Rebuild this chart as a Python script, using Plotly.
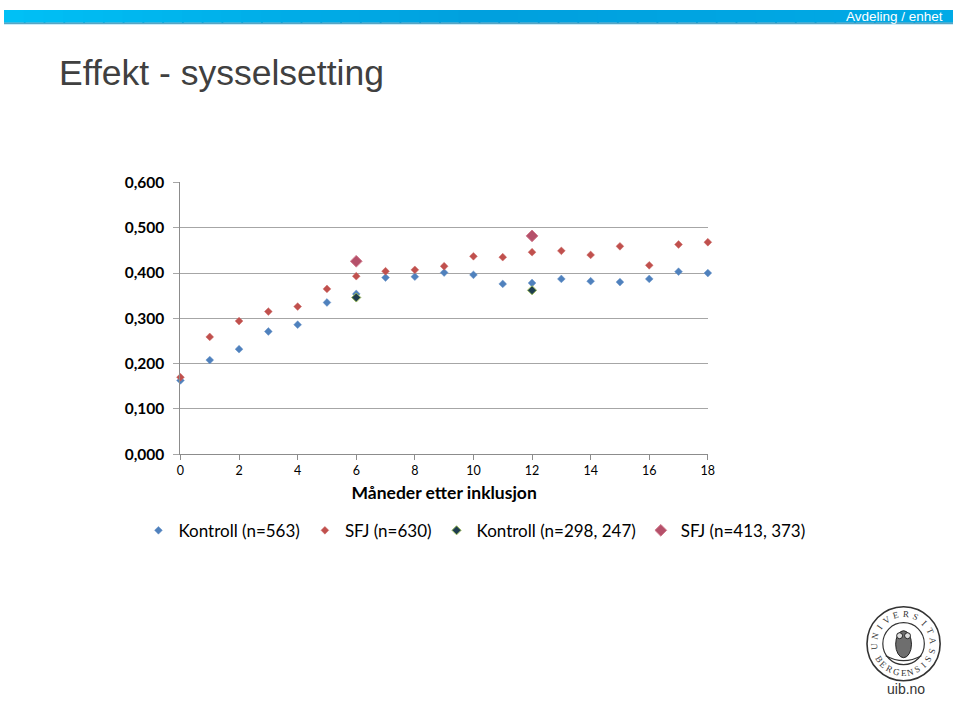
import math
import plotly.graph_objects as go

# ---- data ----
months = list(range(0, 19))
kontroll = [0.163, 0.208, 0.232, 0.271, 0.286, 0.335, 0.354, 0.390, 0.392, 0.401,
            0.396, 0.376, 0.378, 0.387, 0.382, 0.380, 0.387, 0.403, 0.400]
sfj = [0.170, 0.259, 0.294, 0.315, 0.326, 0.365, 0.393, 0.404, 0.407, 0.415,
       0.437, 0.435, 0.446, 0.449, 0.440, 0.459, 0.417, 0.463, 0.468]
sub_months = [6, 12]
kontroll_sub = [0.346, 0.362]
sfj_sub = [0.426, 0.482]

series_names = ["Kontroll (n=563)", "SFJ (n=630)", "Kontroll (n=298, 247)", "SFJ (n=413, 373)"]
y_tickvals = [0.0, 0.1, 0.2, 0.3, 0.4, 0.5, 0.6]
y_ticktext = ["0,000", "0,100", "0,200", "0,300", "0,400", "0,500", "0,600"]
x_tickvals = [0, 2, 4, 6, 8, 10, 12, 14, 16, 18]
x_ticktext = ["0", "2", "4", "6", "8", "10", "12", "14", "16", "18"]

W, H = 960, 707
# target-picture pixel -> paper fraction (compensates the photo's small top offset / scale)
def px_x(p):
    return p / W
def fy(p):
    return (p - 10) / 0.975
def px_y(p):
    return 1 - fy(p) / H
def raw_y(f):
    return 1 - f / H

fig = go.Figure()
fig.add_trace(go.Scatter(x=months, y=kontroll, mode="markers", name=series_names[0],
                         marker=dict(symbol="diamond", size=6, color="#4F81BD",
                                     line=dict(width=0.5, color="#6A95C8")), cliponaxis=False))
fig.add_trace(go.Scatter(x=months, y=sfj, mode="markers", name=series_names[1],
                         marker=dict(symbol="diamond", size=6, color="#C0504D",
                                     line=dict(width=0.5, color="#CC6B68")), cliponaxis=False))
fig.add_trace(go.Scatter(x=sub_months, y=kontroll_sub, mode="markers", name=series_names[2],
                         marker=dict(symbol="diamond", size=7, color="#1E3D4F",
                                     line=dict(width=1, color="#9BBB59")), cliponaxis=False))
fig.add_trace(go.Scatter(x=sub_months, y=sfj_sub, mode="markers", name=series_names[3],
                         marker=dict(symbol="diamond", size=9, color="#B5506A",
                                     line=dict(width=1, color="#D07A8C")), cliponaxis=False))

shapes = []
# header gradient bar
bar_h = 13
n = 48
c0 = (0, 192, 245)
c1 = (0, 160, 222)
c2 = (0, 170, 230)
for i in range(n):
    t = i / (n - 1)
    if t < 0.5:
        u = t / 0.5
        c = tuple(int(c0[k] + (c1[k] - c0[k]) * u) for k in range(3))
    else:
        u = (t - 0.5) / 0.5
        c = tuple(int(c1[k] + (c2[k] - c1[k]) * u) for k in range(3))
    shapes.append(dict(type="rect", xref="paper", yref="paper",
                       x0=i / n, x1=min(1.0, (i + 1) / n + 0.002), y0=raw_y(bar_h), y1=1,
                       fillcolor="rgb(%d,%d,%d)" % c, line=dict(width=0), layer="below"))
shapes.append(dict(type="rect", xref="paper", yref="paper", x0=0, x1=1,
                   y0=raw_y(bar_h + 1), y1=raw_y(bar_h), fillcolor="#0B6E96", line=dict(width=0)))
shapes.append(dict(type="rect", xref="paper", yref="paper", x0=0, x1=1,
                   y0=raw_y(bar_h + 2), y1=raw_y(bar_h + 1), fillcolor="#8FDCF7", line=dict(width=0)))

# logo (decorative)
cx, cy = 910, 644
for r, w in [(37, 1.6), (21, 1.2)]:
    shapes.append(dict(type="circle", xref="paper", yref="paper",
                       x0=px_x(cx - r), x1=px_x(cx + r), y0=px_y(cy + r), y1=px_y(cy - r),
                       line=dict(color="#333333", width=w)))
shapes.append(dict(type="circle", xref="paper", yref="paper",
                   x0=px_x(cx - 8), x1=px_x(cx + 8), y0=px_y(cy + 14), y1=px_y(cy - 13),
                   fillcolor="#6E6E6E", line=dict(color="#222222", width=1)))
for ex in (-4, 4):
    shapes.append(dict(type="circle", xref="paper", yref="paper",
                       x0=px_x(cx + ex - 3), x1=px_x(cx + ex + 3), y0=px_y(cy - 5), y1=px_y(cy - 11),
                       fillcolor="#DDDDDD", line=dict(color="#222222", width=1)))
shapes.append(dict(type="path", xref="paper", yref="paper",
                   path="M %f %f Q %f %f %f %f" % (px_x(cx - 18), px_y(cy + 12), px_x(cx), px_y(cy + 22),
                                                px_x(cx + 18), px_y(cy + 12)),
                   line=dict(color="#333333", width=1.2)))

annotations = [
    dict(text="Avdeling / enhet", x=px_x(952), y=raw_y(bar_h / 2), xref="paper", yref="paper",
         xanchor="right", yanchor="middle", showarrow=False,
         font=dict(family="Liberation Sans, Arial", size=13.5, color="white")),
    dict(text="Effekt - sysselsetting", x=px_x(54), y=px_y(73), xref="paper", yref="paper",
         xanchor="left", yanchor="middle", showarrow=False,
         font=dict(family="Liberation Sans, Arial", size=35.5, color="#404040")),
    dict(text="uib.no", x=px_x(912), y=0, xref="paper", yref="paper",
         xanchor="center", yanchor="bottom", showarrow=False,
         font=dict(family="Liberation Sans, Arial", size=14, color="#333333")),
]

def arc_text(txt, a_start, a_end, radius, top=True):
    k = len(txt)
    for i, ch in enumerate(txt):
        a = a_start + (a_end - a_start) * (i / (k - 1))
        rad = math.radians(a)
        x = cx + radius * math.cos(rad)
        y = cy - radius * math.sin(rad)
        rot = (90 - a) if top else (270 - a)
        annotations.append(dict(text=ch, x=px_x(x), y=px_y(y), xref="paper", yref="paper",
                                xanchor="center", yanchor="middle",
                                showarrow=False, textangle=rot,
                                font=dict(family="Liberation Serif, serif", size=9, color="#333333")))

arc_text("UNIVERSITAS", 185, -15, 29.5, top=True)
arc_text("BERGENSIS", 212, 328, 29.5, top=False)

fig.update_layout(
    width=W, height=H,
    margin=dict(l=0, r=0, t=0, b=0),
    paper_bgcolor="white", plot_bgcolor="white",
    shapes=shapes, annotations=annotations,
    xaxis=dict(domain=[px_x(178.5), px_x(712)], range=[0, 18],
               tickvals=x_tickvals, ticktext=x_ticktext,
               showgrid=False, zeroline=False,
               showline=True, linecolor="#8C8C8C", linewidth=1,
               ticks="outside", ticklen=5, tickcolor="#8C8C8C",
               tickfont=dict(family="Lato, Carlito, Calibri", size=12.5, color="black"),
               title=dict(text="<b>Måneder etter inklusjon</b>", standoff=9,
                          font=dict(family="Lato, Carlito, Calibri", size=17.5, color="black"))),
    yaxis=dict(domain=[px_y(454.5), px_y(182.5)], range=[0, 0.6],
               tickvals=y_tickvals, ticktext=["<b>%s</b>" % t for t in y_ticktext],
               showgrid=True, gridcolor="#A6A6A6", gridwidth=1, zeroline=False,
               showline=True, linecolor="#8C8C8C", linewidth=1,
               ticks="outside", ticklen=6, tickcolor="#A6A6A6",
               ticklabelstandoff=6,
               tickfont=dict(family="Lato, Carlito, Calibri", size=15.5, color="black")),
    legend=dict(orientation="h", x=px_x(136), y=px_y(531), xanchor="left", yanchor="middle",
                font=dict(family="Lato, Carlito, Calibri", size=17, color="black"),
                itemwidth=30, bgcolor="rgba(0,0,0,0)"),
)

fig.write_html("out.html",
               config={"displayModeBar": False},
               post_script="document.documentElement.style.margin='0';"
                           "document.body.style.margin='0';document.body.style.padding='0';"
                           "var gd=document.getElementById('{plot_id}');"
                           "gd.style.position='fixed';gd.style.top='0px';gd.style.left='0px';")
